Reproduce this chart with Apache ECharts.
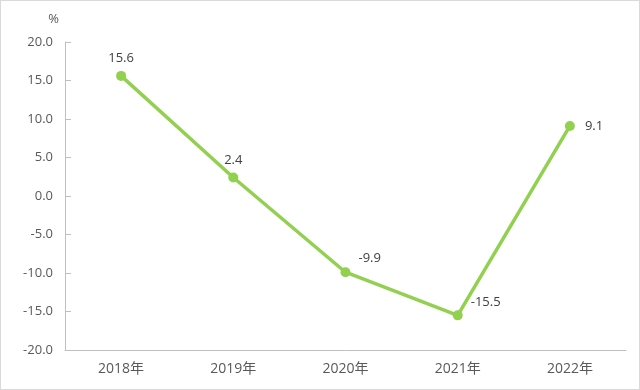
<!DOCTYPE html>
<html><head><meta charset="utf-8">
<script src="https://cdn.jsdelivr.net/npm/echarts@6/dist/echarts.min.js"></script>
<style>html,body{margin:0;padding:0;background:#fff}
#wrap{position:absolute;left:0;top:0;width:638px;height:388px;border:1px solid #d9d9d9;}
#c{width:640px;height:390px;position:absolute;left:-1px;top:-1px}</style>
</head><body><div id="wrap"><div id="c"></div></div>
<script>
const categories = ['2018年','2019年','2020年','2021年','2022年'];
const values = [15.6, 2.4, -9.9, -15.5, 9.1];
const labelPositions = ['top','top','right','right','right'];
const yTicks = {min:-20, max:20, interval:5};

const chart = echarts.init(document.getElementById('c'));
const font = '"Open Sans", "Noto Sans CJK SC", sans-serif';
const labelOffsets = [[0,0],[0,0],[2,-14],[2,-13],[4,0]];
chart.setOption({
  animation:false,
  grid:{left:65,right:14,top:42,bottom:40,containLabel:false},
  xAxis:{type:'category',data:categories,boundaryGap:true,
    axisLine:{onZero:false,lineStyle:{color:'#bfbfbf',width:1}},
    axisTick:{inside:true,length:6,lineStyle:{color:'#bfbfbf'}},
    axisLabel:{color:'#595959',fontSize:14,fontFamily:font,margin:12}},
  yAxis:{type:'value',min:yTicks.min,max:yTicks.max,interval:yTicks.interval,
    name:'%',nameGap:16,nameTextStyle:{color:'#595959',fontSize:13,fontFamily:font,align:'right',padding:[0,6,0,0]},
    axisLine:{show:true,lineStyle:{color:'#bfbfbf'}},
    axisTick:{show:true,inside:true,length:6,lineStyle:{color:'#bfbfbf'}},
    splitLine:{show:false},
    axisLabel:{color:'#595959',fontSize:13,fontFamily:font,margin:12,formatter:v=>v.toFixed(1)}},
  series:[{type:'line',
    data:values.map((v,i)=>({value:v,label:{position:labelPositions[i],offset:labelOffsets[i]}})),
    symbol:'circle',symbolSize:10,
    lineStyle:{color:'#92D050',width:3.5},
    itemStyle:{color:'#92D050'},
    label:{show:true,color:'#404040',fontSize:13,fontFamily:font,distance:6,formatter:p=>p.value.toFixed(1)}
  }]
});
</script></body></html>
